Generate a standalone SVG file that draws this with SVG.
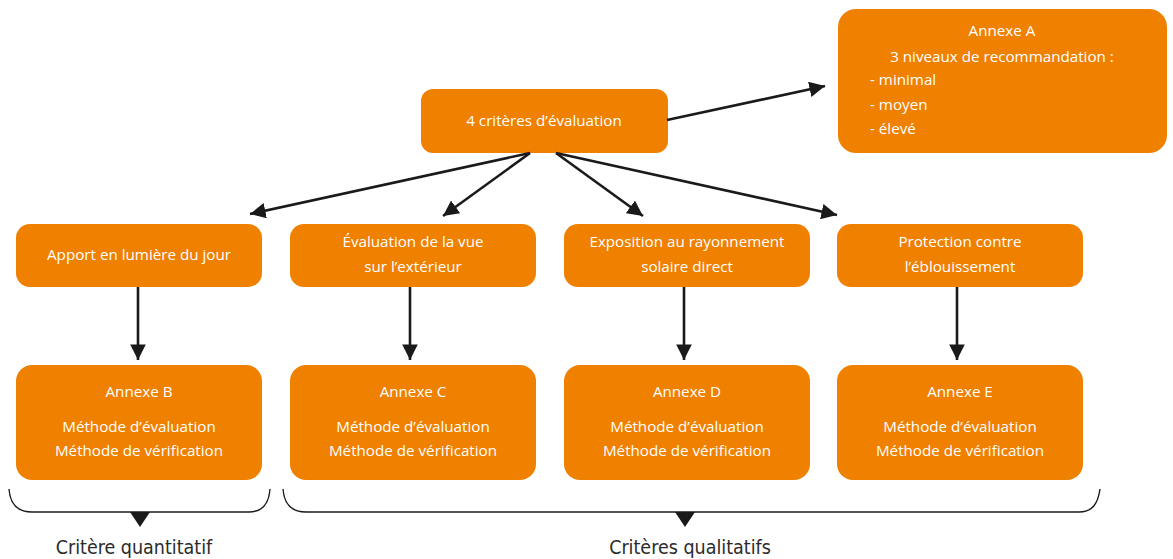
<svg xmlns="http://www.w3.org/2000/svg" width="1173" height="559" viewBox="0 0 1173 559">
<style>
.box{fill:#F08000;}
.t{font-family:"Open Sans","Noto Sans",sans-serif;font-size:15.2px;fill:#FFFFFF;text-anchor:middle;}
.tl{text-anchor:start;}
.ln{stroke:#1a1a1a;stroke-width:2.6;fill:none;}
.br{stroke:#1a1a1a;stroke-width:1.4;fill:none;}
.lab{font-family:"DejaVu Sans Condensed","DejaVu Sans",sans-serif;font-size:19.5px;fill:#2b2b2b;text-anchor:middle;}
.tri{fill:#1a1a1a;}
</style>
<defs>
<marker id="ah" viewBox="0 0 10 10" refX="10" refY="5" markerWidth="6" markerHeight="6" markerUnits="strokeWidth" orient="auto">
<path d="M0,0 L10,5 L0,10 z" fill="#1a1a1a"/>
</marker>
</defs>
<rect width="1173" height="559" fill="#ffffff"/>

<g id="n-top">
<rect class="box" x="421" y="89" width="247" height="64" rx="12"/>
<text class="t" x="544" y="126">4 critères d’évaluation</text>
</g>
<g id="n-annexeA">
<rect class="box" x="838" y="9" width="329" height="144" rx="18"/>
<text class="t" x="1002" y="36">Annexe A</text>
<text class="t" x="1002" y="62">3 niveaux de recommandation :</text>
<text class="t tl" x="870" y="85">- minimal</text>
<text class="t tl" x="870" y="110">- moyen</text>
<text class="t tl" x="870" y="134">- élevé</text>
</g>

<g id="n-apport">
<rect class="box" x="16" y="224" width="246" height="63" rx="14"/>
<text class="t" x="139" y="260">Apport en lumière du jour</text>
</g>
<g id="n-vue">
<rect class="box" x="290" y="224" width="246" height="63" rx="14"/>
<text class="t" x="413" y="247">Évaluation de la vue</text>
<text class="t" x="413" y="272">sur l’extérieur</text>
</g>
<g id="n-expo">
<rect class="box" x="564" y="224" width="246" height="63" rx="14"/>
<text class="t" x="687" y="247">Exposition au rayonnement</text>
<text class="t" x="687" y="272">solaire direct</text>
</g>
<g id="n-protect">
<rect class="box" x="837" y="224" width="246" height="63" rx="14"/>
<text class="t" x="960" y="247">Protection contre</text>
<text class="t" x="960" y="272">l’éblouissement</text>
</g>

<g id="n-annexeB">
<rect class="box" x="16" y="365" width="246" height="115" rx="16"/>
<text class="t" x="139" y="397">Annexe B</text>
<text class="t" x="139" y="432">Méthode d’évaluation</text>
<text class="t" x="139" y="456">Méthode de vérification</text>
</g>
<g id="n-annexeC">
<rect class="box" x="290" y="365" width="246" height="115" rx="16"/>
<text class="t" x="413" y="397">Annexe C</text>
<text class="t" x="413" y="432">Méthode d’évaluation</text>
<text class="t" x="413" y="456">Méthode de vérification</text>
</g>
<g id="n-annexeD">
<rect class="box" x="564" y="365" width="246" height="115" rx="16"/>
<text class="t" x="687" y="397">Annexe D</text>
<text class="t" x="687" y="432">Méthode d’évaluation</text>
<text class="t" x="687" y="456">Méthode de vérification</text>
</g>
<g id="n-annexeE">
<rect class="box" x="837" y="365" width="246" height="115" rx="16"/>
<text class="t" x="960" y="397">Annexe E</text>
<text class="t" x="960" y="432">Méthode d’évaluation</text>
<text class="t" x="960" y="456">Méthode de vérification</text>
</g>

<g id="connectors">
<line class="ln" x1="530" y1="153" x2="250" y2="214" marker-end="url(#ah)"/>
<line class="ln" x1="530" y1="153" x2="443" y2="216" marker-end="url(#ah)"/>
<line class="ln" x1="556" y1="153" x2="643" y2="216" marker-end="url(#ah)"/>
<line class="ln" x1="556" y1="153" x2="837" y2="215" marker-end="url(#ah)"/>
<line class="ln" x1="667" y1="120" x2="825" y2="86" marker-end="url(#ah)"/>
<line class="ln" x1="138" y1="287" x2="138" y2="360" marker-end="url(#ah)"/>
<line class="ln" x1="410" y1="287" x2="410" y2="360" marker-end="url(#ah)"/>
<line class="ln" x1="684" y1="287" x2="684" y2="360" marker-end="url(#ah)"/>
<line class="ln" x1="957" y1="287" x2="957" y2="360" marker-end="url(#ah)"/>
</g>

<g id="bracket-quanti">
<path class="br" d="M9 489 C10 503 17 512 32 512 L249 512 C263 512 269 503 270 489"/>
<path class="tri" d="M130 512 L150 512 L140 527 z"/>
<text class="lab" x="134" y="554">Critère quantitatif</text>
</g>
<g id="bracket-quali">
<path class="br" d="M283 489 C284 503 291 512 306 512 L1079 512 C1093 512 1098 503 1100 489"/>
<path class="tri" d="M675 512 L695 512 L685 527 z"/>
<text class="lab" x="690" y="554">Critères qualitatifs</text>
</g>
</svg>
